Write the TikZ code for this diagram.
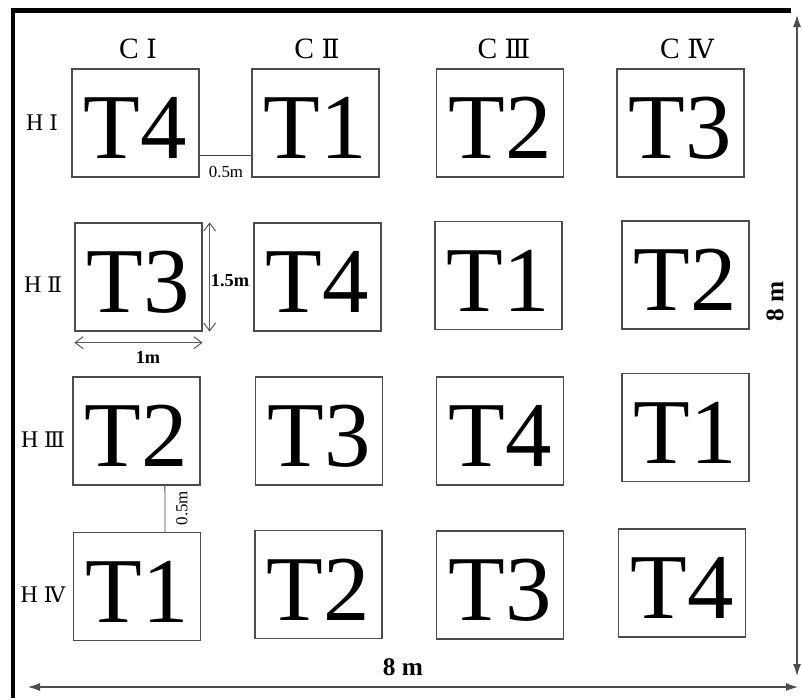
\documentclass[tikz,border=0pt]{standalone}
\usepackage{fontspec}
\setmainfont{Liberation Serif}
\newfontfamily\romnum[Scale=0.9]{DejaVu Serif}
\usetikzlibrary{positioning, arrows.meta, calc}

\begin{document}
\begin{tikzpicture}[x=0.025cm, y=-0.025cm,
  plot/.style={draw=black!70, line width=0.9pt, minimum width=3.175cm, minimum height=2.7cm,
    inner sep=0pt, text height=1.79cm, text depth=0pt, font=\fontsize{66}{70}\selectfont},
  collabel/.style={font=\fontsize{21}{24}\selectfont},
  rowlabel/.style={font=\fontsize{17}{20}\selectfont},
  gap/.style={draw=black!75, line width=0.6pt},
  gaptext/.style={font=\fontsize{12}{14}\selectfont, inner sep=1pt},
  dimarrow/.style={draw=black!65, line width=0.7pt,
    {Straight Barb[length=0.2cm,width=0.3cm]}-{Straight Barb[length=0.2cm,width=0.3cm]}},
  dimtext/.style={font=\bfseries\fontsize{13}{15}\selectfont, inner sep=1pt},
  fieldarrow/.style={draw=black!70, line width=0.8pt,
    {Latex[length=0.3cm,width=0.2cm]}-{Latex[length=0.3cm,width=0.2cm]}},
  fieldtext/.style={font=\bfseries\fontsize{18}{20}\selectfont}]
  \useasboundingbox (0,0) rectangle (802,698);

  % Field border
  \draw[line width=0.11cm] (13,698) -- (13,10.5) -- (791,10.5);

  % Row H I
  \node[plot] (t11) at (135.5,123) {T4};
  \node[plot] (t12) at (315.5,123) {T1};
  \node[plot] (t13) at (500,123) {T2};
  \node[plot] (t14) at (680.5,123) {T3};

  % Row H II
  \node[plot] (t21) at (138.5,277) {T3};
  \node[plot] (t22) at (317.5,277) {T4};
  \node[plot] (t23) at (498.5,275.5) {T1};
  \node[plot] (t24) at (685.5,275) {T2};

  % Row H III
  \node[plot] (t31) at (136.5,431) {T2};
  \node[plot] (t32) at (319,431) {T3};
  \node[plot] (t33) at (500,431) {T4};
  \node[plot] (t34) at (685.5,427.5) {T1};

  % Row H IV
  \node[plot] (t41) at (137,586.5) {T1};
  \node[plot] (t42) at (318.5,584.5) {T2};
  \node[plot] (t43) at (500,585) {T3};
  \node[plot] (t44) at (682,583) {T4};

  % Columns and rows
  \node[collabel] (c1) at (138,49) {C {\romnum Ⅰ}};
  \node[collabel] (c2) at (317,49) {C {\romnum Ⅱ}};
  \node[collabel] (c3) at (504,49) {C {\romnum Ⅲ}};
  \node[collabel] (c4) at (687,49) {C {\romnum Ⅳ}};
  \node[rowlabel] (h1) at (42,123) {H {\romnum Ⅰ}};
  \node[rowlabel] (h2) at (43,285) {H {\romnum Ⅱ}};
  \node[rowlabel] (h3) at (43,440) {H {\romnum Ⅲ}};
  \node[rowlabel] (h4) at (43,595) {H {\romnum Ⅳ}};

  % Spacing between plots
  \draw[gap] ([yshift=0.55cm]t11.south east) -- ([yshift=0.55cm]t12.south west);
  \node[gaptext] (g1) at (226,172) {0.5m};
  \draw[gap] ([xshift=0.71cm]t31.south) -- ([xshift=0.7cm]t41.north);
  \node[gaptext, rotate=90] (g2) at (182,508) {0.5m};

  % Plot size
  \draw[dimarrow] ([xshift=0.175cm]t21.north east) -- ([xshift=0.175cm]t21.south east);
  \node[dimtext] (d1) at (230,281) {1.5m};
  \draw[dimarrow] ([yshift=-0.275cm]t21.south west) -- ([yshift=-0.275cm]t21.south east);
  \node[dimtext] (d2) at (148,357) {1m};

  % Field size
  \coordinate (bl) at (28,687);
  \coordinate (br) at (798,687);
  \coordinate (tr) at (797,15);
  \coordinate (rb) at (797,676);
  \draw[fieldarrow] (bl) -- (br);
  \draw[fieldarrow] (tr) -- (rb);
  \node[fieldtext] (w) at (403,667) {8 m};
  \node[fieldtext, rotate=90] (h) at (775,301) {8 m};
\end{tikzpicture}
\end{document}
